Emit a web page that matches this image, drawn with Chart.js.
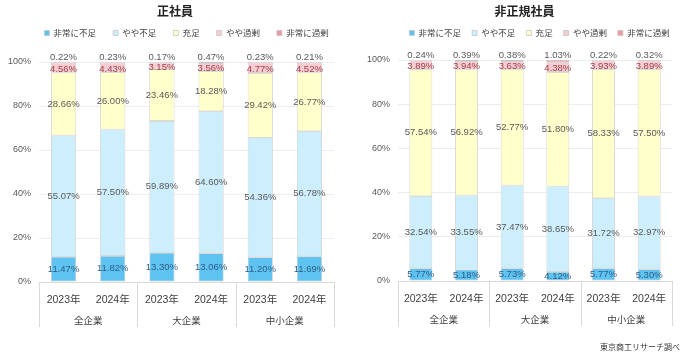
<!DOCTYPE html>
<html><head><meta charset="utf-8">
<script src="https://cdn.jsdelivr.net/npm/chart.js@4"></script>
<style>
html,body{margin:0;padding:0;background:#fff;}
#wrap{position:relative;width:697px;height:355px;overflow:hidden;background:#fff;}
#c1box{position:absolute;left:0;top:0;width:350px;height:355px;}
#c2box{position:absolute;left:352px;top:0;width:345px;height:355px;}
#src{position:absolute;right:17px;top:341px;font-family:'Noto Sans CJK JP',sans-serif;font-size:8px;color:#333;line-height:11px;white-space:nowrap;}
</style></head>
<body><div id="wrap">
<div id="c1box"><canvas id="c1" width="350" height="355"></canvas></div>
<div id="c2box"><canvas id="c2" width="345" height="355"></canvas></div>
<div id="src">東京商工リサーチ調べ</div>
</div>
<script>
// ---- data ----
const years = ['2023年','2024年','2023年','2024年','2023年','2024年'];
const groups = ['全企業','大企業','中小企業'];
const seriesNames = ['非常に不足','やや不足','充足','やや過剰','非常に過剰'];
const yTicks = [0,20,40,60,80,100];

// 正社員
const regVeryShort  = [11.47,11.82,13.30,13.06,11.20,11.69];
const regSomeShort  = [55.07,57.50,59.89,64.60,54.36,56.78];
const regEnough     = [28.66,26.00,23.46,18.28,29.42,26.77];
const regSomeExcess = [4.56,4.43,3.15,3.56,4.77,4.52];
const regVeryExcess = [0.22,0.23,0.17,0.47,0.23,0.21];

// 非正規社員
const nonVeryShort  = [5.77,5.18,5.73,4.12,5.77,5.30];
const nonSomeShort  = [32.54,33.55,37.47,38.65,31.72,32.97];
const nonEnough     = [57.54,56.92,52.77,51.80,58.33,57.50];
const nonSomeExcess = [3.89,3.94,3.63,4.38,3.93,3.89];
const nonVeryExcess = [0.24,0.39,0.38,1.03,0.22,0.32];

// ---- styles ----
const COLORS = ['#5fc3f1','#cdeefc','#ffffcc','#f8cdd2','#ef97a3'];
const LABEL_COLORS = ['#2e5e86','#595959','#595959','#9b3f4a','#595959'];
const NARROW = "'Liberation Sans Narrow','Liberation Sans','Noto Sans CJK JP',sans-serif";
const CJK = "'Noto Sans CJK JP','Noto Sans',sans-serif";

const valueLabels = {
  id:'valueLabels',
  afterDatasetsDraw(chart){
    const ctx = chart.ctx;
    ctx.save();
    ctx.font = '9.5px ' + NARROW;
    ctx.textAlign = 'center';
    ctx.textBaseline = 'middle';
    chart.data.datasets.forEach((ds, di) => {
      const meta = chart.getDatasetMeta(di);
      meta.data.forEach((el, i) => {
        const v = ds.data[i];
        let y;
        if (di === 4) y = el.y - 5;
        else y = (el.y + el.base) / 2 + (di === 3 ? 1.5 : 0);
        ctx.fillStyle = LABEL_COLORS[di];
        ctx.fillText(v.toFixed(2) + '%', el.x, y);
      });
    });
    ctx.restore();
  }
};

const separators = {
  id:'separators',
  afterDraw(chart){
    const xs = chart.scales.x, x2 = chart.scales.x2;
    const ctx = chart.ctx;
    const xsPos = [xs.left,
      (xs.getPixelForValue(1) + xs.getPixelForValue(2)) / 2,
      (xs.getPixelForValue(3) + xs.getPixelForValue(4)) / 2,
      xs.right];
    ctx.save();
    ctx.strokeStyle = '#d9d9d9';
    ctx.lineWidth = 1;
    xsPos.forEach(x => {
      const px = Math.round(x) + 0.5;
      ctx.beginPath();
      ctx.moveTo(px, xs.top);
      ctx.lineTo(px, x2.bottom - 5);
      ctx.stroke();
    });
    ctx.restore();
  }
};

function legendBox(h, expL, expR){
  return {
    id:'legendBox',
    afterInit(chart){
      const lg = chart.legend;
      const f = lg.fit.bind(lg);
      lg.fit = function(){
        const mw = this.maxWidth;
        this.maxWidth = 2000;
        f();
        this.maxWidth = mw;
        this.width = Math.min(this.width, mw);
        this.height = h;
      };
    },
    afterLayout(chart){
      const lg = chart.legend;
      lg.left -= expL;
      lg.right += expR;
      lg.width = lg.right - lg.left;
    }
  };
}

function makeChart(canvasId, title, series, cfg){
  const datasets = series.map((d, i) => ({
    label: seriesNames[i],
    data: d,
    backgroundColor: COLORS[i],
    borderColor: '#c3c3c3',
    borderWidth: 0.75,
    borderSkipped: false,
    barPercentage: cfg.barPct,
    categoryPercentage: 1,
    xAxisID: 'x',
    yAxisID: 'y'
  }));
  const legendItemCenter = 33, fontSz = 8.5;
  const legendTop = legendItemCenter - cfg.legPad - fontSz / 2;
  const titleBottomPad = legendTop - 4 - 12 * 1.2;
  return new Chart(document.getElementById(canvasId), {
    type: 'bar',
    data: { labels: years, datasets },
    options: {
      responsive: false,
      animation: false,
      layout: { padding: { left: 0, right: 0, top: 0, bottom: cfg.padBottom } },
      plugins: {
        title: {
          display: true, text: title, color: '#222',
          font: { family: CJK, size: 12, weight: 'bold' },
          padding: { top: 4, bottom: titleBottomPad }
        },
        legend: {
          display: true, position: 'top', fullSize: false, align: 'center',
          labels: {
            boxWidth: 5, boxHeight: 5, padding: cfg.legPad, color: '#404040',
            font: { family: CJK, size: fontSz }
          }
        },
        tooltip: { enabled: false }
      },
      scales: {
        x: {
          type: 'category', stacked: true, position: 'bottom',
          grid: { display: false },
          border: { display: true, color: '#d9d9d9' },
          ticks: { color: '#404040', font: { family: NARROW, size: 10.5 }, padding: 4, maxRotation: 0 },
          afterFit(s){ s.height = 24; }
        },
        x2: {
          type: 'category', position: 'bottom', labels: groups, offset: true,
          grid: { display: false }, border: { display: false },
          ticks: { color: '#404040', font: { family: CJK, size: 9.5 }, padding: 1, maxRotation: 0 },
          afterFit(s){ s.height = 26; }
        },
        y: {
          type: 'linear', stacked: true, min: 0, max: 100, position: 'left',
          grid: { color: '#ededed', drawTicks: false },
          border: { display: false },
          afterBuildTicks(s){ s.ticks = yTicks.map(v => ({ value: v })); },
          ticks: { color: '#595959', font: { family: NARROW, size: 9 }, padding: 8,
                   callback: v => v + '%' },
          afterFit(s){ s.width = cfg.leftW; }
        },
        y2: {
          type: 'linear', position: 'right', display: true,
          grid: { display: false }, border: { display: false },
          ticks: { display: false },
          afterFit(s){ s.width = cfg.rightW; }
        }
      }
    },
    plugins: [valueLabels, separators, legendBox(cfg.chartTop - legendTop, cfg.expL, cfg.expR)]
  });
}

makeChart('c1', '正社員',
  [regVeryShort, regSomeShort, regEnough, regSomeExcess, regVeryExcess],
  { barPct: 0.51, leftW: 39, rightW: 16, padBottom: 23, legPad: 17, chartTop: 62, expL: 24, expR: 24 });

makeChart('c2', '非正規社員',
  [nonVeryShort, nonSomeShort, nonEnough, nonSomeExcess, nonVeryExcess],
  { barPct: 0.5, leftW: 46, rightW: 25, padBottom: 24, legPad: 11, chartTop: 60, expL: 8, expR: 17 });
</script>
</body></html>
